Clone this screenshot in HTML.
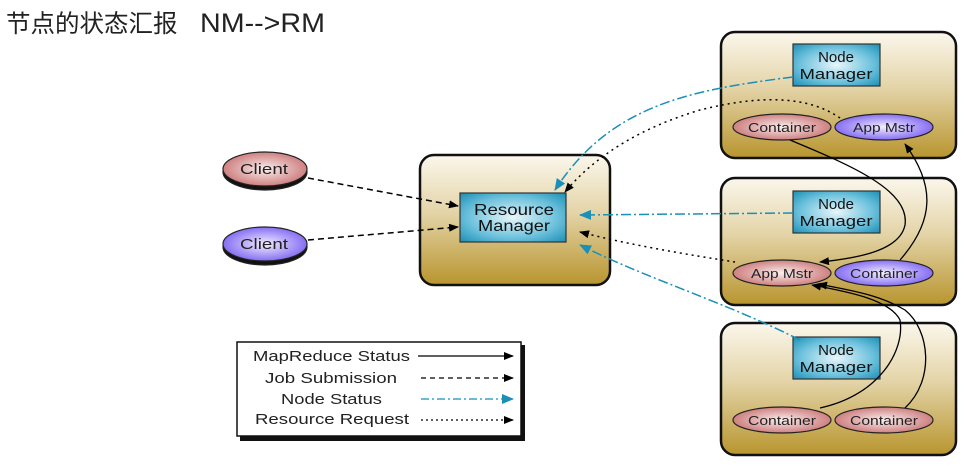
<!DOCTYPE html>
<html><head><meta charset="utf-8"><style>
html,body{margin:0;padding:0;background:#fff;width:969px;height:468px;overflow:hidden}
svg{display:block}
</style></head><body>
<svg width="969" height="468" viewBox="0 0 969 468" xmlns="http://www.w3.org/2000/svg" font-family="Liberation Sans, sans-serif">
<defs>
<linearGradient id="gold" x1="0" y1="0" x2="0" y2="1">
<stop offset="0" stop-color="#fbf7ec"/><stop offset="0.45" stop-color="#e3d3a6"/><stop offset="1" stop-color="#b8952e"/>
</linearGradient>
<radialGradient id="blue" cx="0.5" cy="0.5" r="0.7">
<stop offset="0" stop-color="#e8f6fb"/><stop offset="0.6" stop-color="#6cc1dc"/><stop offset="1" stop-color="#1c8fb5"/>
</radialGradient>
<radialGradient id="red" cx="0.5" cy="0.5" r="0.6">
<stop offset="0" stop-color="#fbeeee"/><stop offset="1" stop-color="#c56a6a"/>
</radialGradient>
<radialGradient id="purp" cx="0.5" cy="0.5" r="0.6">
<stop offset="0" stop-color="#f2eeff"/><stop offset="1" stop-color="#7155f0"/>
</radialGradient>
<marker id="ak" markerWidth="10" markerHeight="8" refX="9" refY="4" orient="auto" markerUnits="userSpaceOnUse"><path d="M0,0 L10,4 L0,8 z" fill="#000"/></marker>
<marker id="ab" markerWidth="12" markerHeight="10" refX="11" refY="5" orient="auto" markerUnits="userSpaceOnUse"><path d="M0,0 L12,5 L0,10 z" fill="#1a8fb8"/></marker>
</defs>
<text x="6" y="32" font-size="24.5" fill="#222" font-family="Liberation Sans, Noto Sans CJK SC, sans-serif">节点的状态汇报</text>
<text x="200" y="32" font-size="27" fill="#222" textLength="125" lengthAdjust="spacingAndGlyphs">NM--&gt;RM</text>

<!-- boxes -->
<g stroke="#111" stroke-width="2.5">
<rect x="420" y="155" width="190" height="130" rx="14" fill="url(#gold)"/>
<rect x="721" y="32" width="235" height="126" rx="14" fill="url(#gold)"/>
<rect x="721" y="178" width="235" height="127" rx="14" fill="url(#gold)"/>
<rect x="721" y="323" width="235" height="132" rx="14" fill="url(#gold)"/>
</g>
<g stroke="#333" stroke-width="1.2">
<rect x="460" y="193" width="106" height="49" fill="url(#blue)"/>
<rect x="793" y="44" width="87" height="42" fill="url(#blue)"/>
<rect x="793" y="191" width="87" height="42" fill="url(#blue)"/>
<rect x="793" y="337" width="87" height="42" fill="url(#blue)"/>
</g>
<g font-size="16" fill="#111" text-anchor="middle">
<text x="514" y="215" textLength="80" lengthAdjust="spacingAndGlyphs">Resource</text><text x="514" y="231" textLength="72" lengthAdjust="spacingAndGlyphs">Manager</text>
</g>
<g font-size="15" fill="#111" text-anchor="middle">
<text x="836" y="62">Node</text><text x="836" y="79" textLength="73" lengthAdjust="spacingAndGlyphs">Manager</text>
<text x="836" y="209">Node</text><text x="836" y="226" textLength="73" lengthAdjust="spacingAndGlyphs">Manager</text>
<text x="836" y="355">Node</text><text x="836" y="372" textLength="73" lengthAdjust="spacingAndGlyphs">Manager</text>
</g>
<!-- ellipses -->
<g stroke="#222" stroke-width="1.2">
<ellipse cx="265" cy="172" rx="42" ry="18" fill="#111"/>
<ellipse cx="265" cy="169" rx="42" ry="17" fill="url(#red)"/>
<ellipse cx="265" cy="247" rx="42" ry="18" fill="#111"/>
<ellipse cx="265" cy="244" rx="42" ry="17" fill="url(#purp)"/>
<ellipse cx="782" cy="127" rx="49" ry="13" fill="url(#red)"/>
<ellipse cx="884" cy="127" rx="49" ry="13" fill="url(#purp)"/>
<ellipse cx="782" cy="273" rx="49" ry="13" fill="url(#red)"/>
<ellipse cx="884" cy="273" rx="49" ry="13" fill="url(#purp)"/>
<ellipse cx="782" cy="420" rx="49" ry="13" fill="url(#red)"/>
<ellipse cx="884" cy="420" rx="49" ry="13" fill="url(#red)"/>
</g>
<g font-size="15" fill="#222" text-anchor="middle">
<text x="264" y="174" textLength="48" lengthAdjust="spacingAndGlyphs">Client</text><text x="264" y="249" textLength="48" lengthAdjust="spacingAndGlyphs">Client</text>
</g>
<g font-size="13" fill="#222" text-anchor="middle" lengthAdjust="spacingAndGlyphs">
<text x="782" y="132" textLength="68" lengthAdjust="spacingAndGlyphs">Container</text><text x="884" y="132" textLength="62" lengthAdjust="spacingAndGlyphs">App Mstr</text>
<text x="782" y="278" textLength="62" lengthAdjust="spacingAndGlyphs">App Mstr</text><text x="884" y="278" textLength="68" lengthAdjust="spacingAndGlyphs">Container</text>
<text x="782" y="425" textLength="68" lengthAdjust="spacingAndGlyphs">Container</text><text x="884" y="425" textLength="68" lengthAdjust="spacingAndGlyphs">Container</text>
</g>

<!-- job submission -->
<g fill="none" stroke="#000" stroke-width="1.5" stroke-dasharray="6,4" marker-end="url(#ak)">
<path d="M308,178 L458,206"/>
<path d="M308,240 L458,227"/>
</g>
<!-- node status -->
<g fill="none" stroke="#1a8fb8" stroke-width="1.5" stroke-dasharray="10,3,2,3" marker-end="url(#ab)">
<path d="M793,77 C690,90 610,105 555,190"/>
<path d="M793,213 L580,215"/>
<path d="M800,340 C720,300 650,280 580,245"/>
</g>
<!-- resource request -->
<g fill="none" stroke="#000" stroke-width="1.5" stroke-dasharray="2,4" marker-end="url(#ak)">
<path d="M840,118 C800,90 740,100 700,110 C650,125 600,150 565,192"/>
<path d="M735,262 C690,255 630,245 580,232"/>
</g>
<!-- mapreduce status -->
<g fill="none" stroke="#000" stroke-width="1.3" marker-end="url(#ak)">
<path d="M790,140 C850,165 910,190 905,225 C900,250 860,258 820,262"/>
<path d="M900,260 C935,220 935,185 905,144"/>
<path d="M820,408 C880,395 905,350 900,320 C890,300 850,292 812,285"/>
<path d="M905,408 C935,380 930,330 905,310 C880,295 850,290 818,284"/>
</g>

<!-- legend -->
<rect x="240" y="345" width="285" height="96" fill="#111"/>
<rect x="237" y="342" width="284" height="94" fill="#fff" stroke="#111" stroke-width="1.5"/>
<g font-size="15" fill="#222">
<text x="253" y="361" textLength="157" lengthAdjust="spacingAndGlyphs">MapReduce Status</text>
<text x="265" y="383" textLength="132" lengthAdjust="spacingAndGlyphs">Job Submission</text>
<text x="281" y="404" textLength="101" lengthAdjust="spacingAndGlyphs">Node Status</text>
<text x="255" y="424" textLength="154" lengthAdjust="spacingAndGlyphs">Resource Request</text>
</g>
<g fill="none" stroke-width="1.3">
<path d="M418,356 L513,356" stroke="#000" marker-end="url(#ak)"/>
<path d="M421,378 L513,378" stroke="#000" stroke-dasharray="5,4" marker-end="url(#ak)"/>
<path d="M421,399 L513,399" stroke="#1a8fb8" stroke-dasharray="8,3,2,3" marker-end="url(#ab)"/>
<path d="M421,420 L513,420" stroke="#000" stroke-dasharray="2,3" marker-end="url(#ak)"/>
</g>
</svg>
</body></html>
